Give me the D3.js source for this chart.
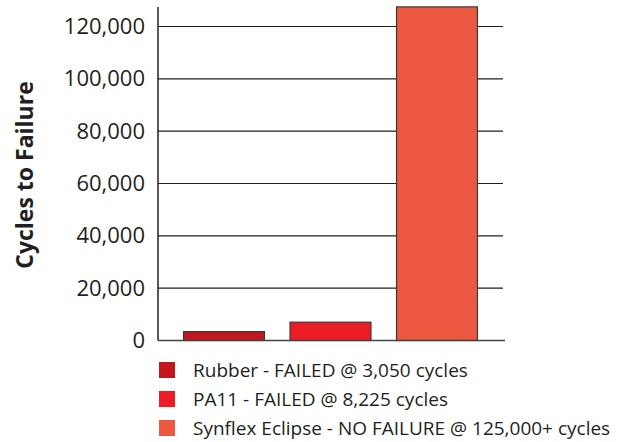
<!DOCTYPE html>
<html>
<head>
<meta charset="utf-8">
<script src="https://cdn.jsdelivr.net/npm/d3@7"></script>
<style>
  body { margin: 0; background: #fff; }
  text { font-family: "Open Sans", sans-serif; fill: #231f20; }
</style>
</head>
<body>
<div id="plot"></div>
<script>
let materials = ["Rubber", "PA11", "Synflex Eclipse"]
let cycles = [3400, 7000, 127500]
let colors = ["#c3161d", "#ed1c24", "#ec5840"]
let legendLabels = [
  "Rubber - FAILED @ 3,050 cycles",
  "PA11 - FAILED @ 8,225 cycles",
  "Synflex Eclipse - NO FAILURE @ 125,000+ cycles"
]
let yTicks = [0, 20000, 40000, 60000, 80000, 100000, 120000]

let svgWidth = 629
let svgHeight = 442

let svg = d3.select("#plot")
  .append("svg")
  .attr("width", svgWidth)
  .attr("height", svgHeight)

let x = d3.scaleBand()
  .domain(materials)
  .range([158, 503])
  .paddingInner(0.24)
  .paddingOuter(0.24)

let y = d3.scaleLinear()
  .domain([0, 120000])
  .range([340.5, 26.5])

// gridlines
svg.append("g")
  .selectAll("line")
  .data(yTicks.filter(d => d > 0))
  .enter()
  .append("line")
  .attr("x1", 158)
  .attr("x2", 503)
  .attr("y1", d => y(d))
  .attr("y2", d => y(d))
  .attr("stroke", "#231f20")
  .attr("stroke-width", 1.2)

// tick labels
let yAxis = d3.axisLeft(y)
  .tickValues(yTicks)
  .tickFormat(d3.format(","))
  .tickSize(0)
  .tickPadding(13)

let yAxisG = svg.append("g")
  .attr("transform", "translate(158,0)")
  .call(yAxis)
yAxisG.select(".domain").remove()
yAxisG.selectAll("text")
  .style("font-size", "22px")
  .style("font-family", "'Open Sans', sans-serif")
  .attr("fill", "#231f20")

// bars
svg.append("g")
  .selectAll("rect")
  .data(materials)
  .enter()
  .append("rect")
  .attr("x", d => x(d))
  .attr("width", x.bandwidth())
  .attr("y", (d, i) => y(cycles[i]))
  .attr("height", (d, i) => y(0) - y(cycles[i]))
  .attr("fill", (d, i) => colors[i])
  .attr("stroke", "#3a3a3a")
  .attr("stroke-width", 1.2)

// axis lines
svg.append("line")
  .attr("x1", 158).attr("x2", 158)
  .attr("y1", 7).attr("y2", y(0))
  .attr("stroke", "#231f20")
  .attr("stroke-width", 1.5)

svg.append("line")
  .attr("x1", 158).attr("x2", 505)
  .attr("y1", y(0)).attr("y2", y(0))
  .attr("stroke", "#444")
  .attr("stroke-width", 1.5)

// y title
svg.append("text")
  .attr("transform", "translate(33, 175) rotate(-90)")
  .attr("text-anchor", "middle")
  .style("font-size", "23px")
  .style("font-weight", "bold")
  .text("Cycles to Failure")

// legend
let legend = svg.append("g")
  .selectAll("g")
  .data(legendLabels)
  .enter()
  .append("g")
  .attr("transform", (d, i) => `translate(159, ${362 + i * 29})`)

legend.append("rect")
  .attr("width", 16)
  .attr("height", 16)
  .attr("fill", (d, i) => colors[i])

legend.append("text")
  .attr("x", 34)
  .attr("y", 15)
  .style("font-size", "19px")
  .text(d => d)
</script>
</body>
</html>
